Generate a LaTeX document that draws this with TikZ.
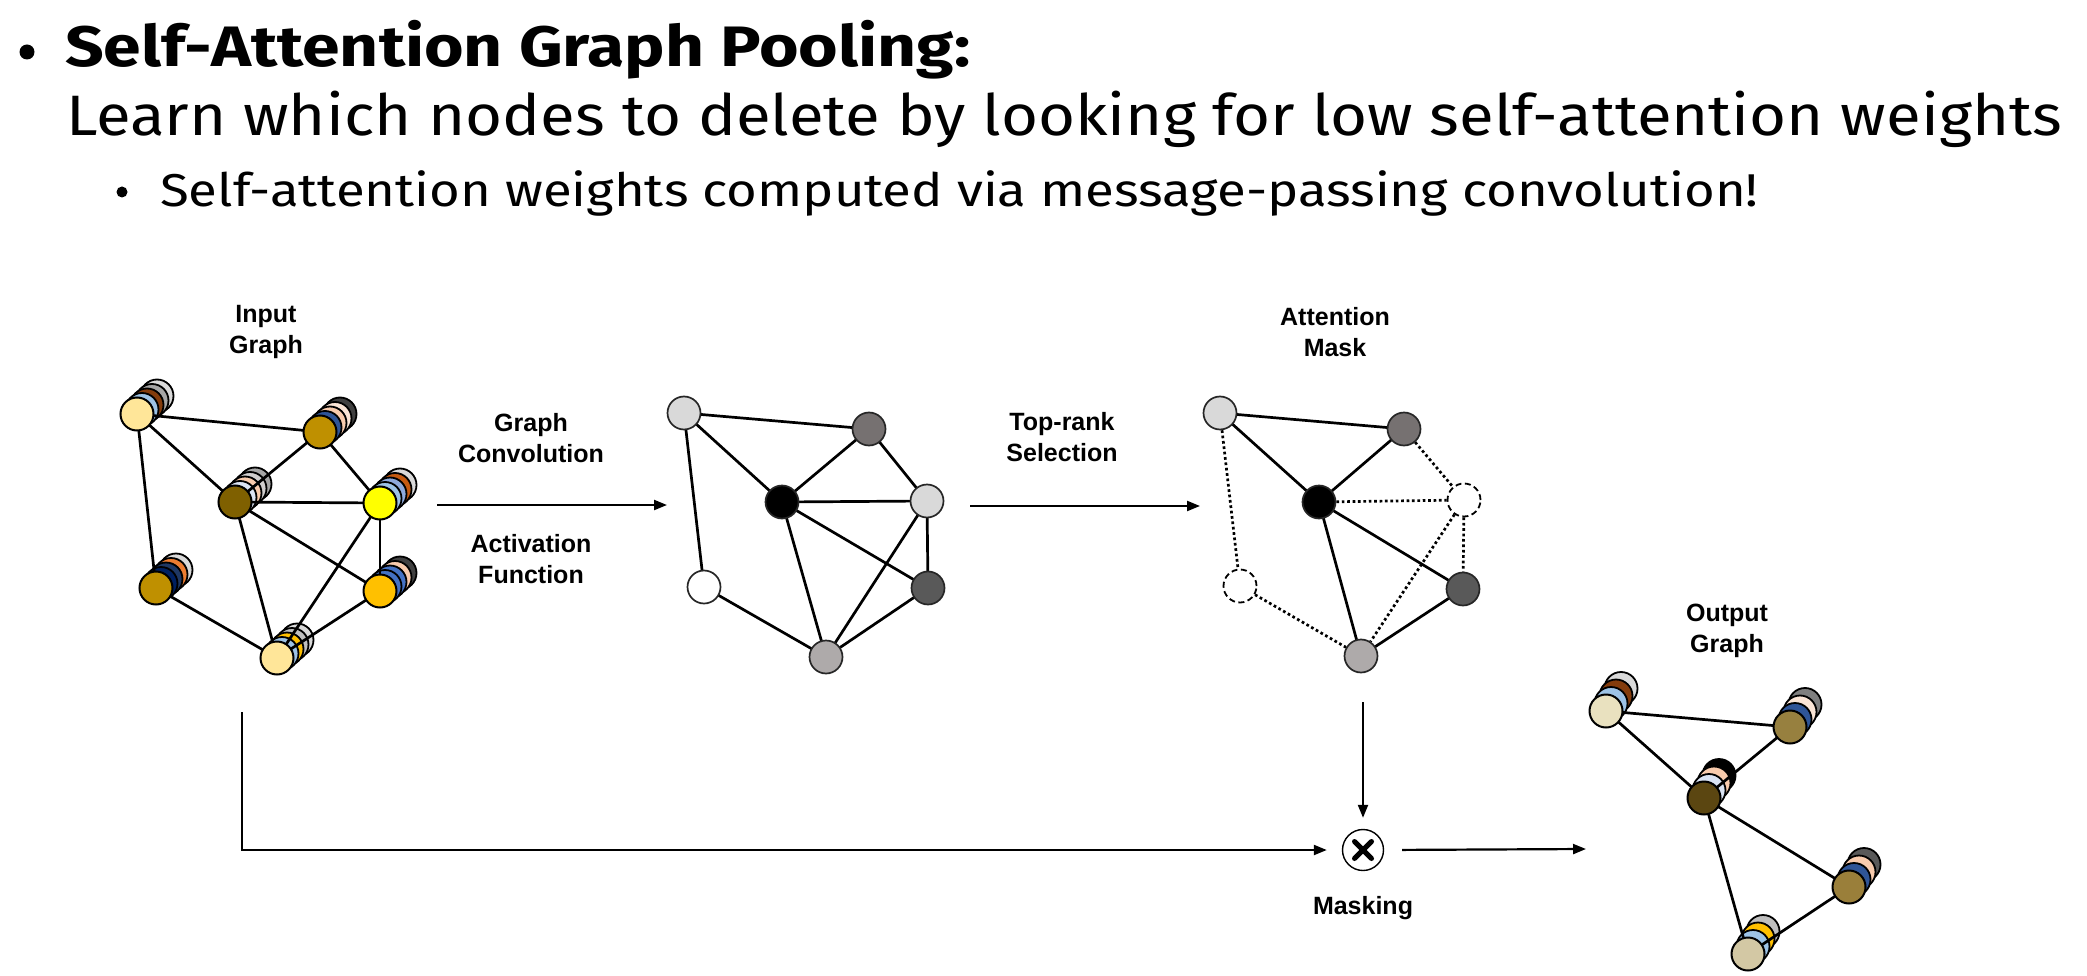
\documentclass[tikz,border=0pt]{standalone}
\usepackage{fontspec}
\setmainfont{Liberation Sans}
\newfontfamily\ttlAfont[FakeStretch=1.19]{Fira Sans}
\newfontfamily\ttlBfont[FakeStretch=1.115]{Fira Sans}
\newfontfamily\ttlCfont[FakeStretch=1.146]{Fira Sans}
\usetikzlibrary{arrows.meta}
\pgfdeclarelayer{bgfill}
\pgfdeclarelayer{stack}
\pgfdeclarelayer{edges}
\pgfsetlayers{bgfill,stack,edges,main}

\tikzset{
  gn/.style={circle, draw=black, line width=2pt, minimum size=33pt, inner sep=0pt},
  gtwo/.style={gn, draw=black!85, line width=1.7pt},
  stk/.style={draw=black, line width=1.8pt},
  edge/.style={line width=2.7pt, black},
  dotedge/.style={line width=2.7pt, black, dash pattern=on 2.7pt off 2.7pt},
  dcirc/.style={gn, fill=white, line width=1.8pt, dash pattern=on 6pt off 3.5pt},
  arr/.style={line width=2.2pt, -{Triangle[length=13pt,width=10pt]}},
  lbl/.style={font=\bfseries\fontsize{25pt}{31pt}\selectfont, align=center, inner sep=0pt},
  ttlA/.style={anchor=base west, inner sep=0pt, font=\ttlAfont\bfseries\fontsize{57pt}{69pt}\selectfont},
  ttlB/.style={anchor=base west, inner sep=0pt, font=\ttlBfont\fontsize{57pt}{69pt}\selectfont},
  ttlC/.style={anchor=base west, inner sep=0pt, font=\ttlCfont\fontsize{46pt}{56pt}\selectfont},
  bul/.style={circle, fill=black, inner sep=0pt},
}

\newcommand\mkstack[7]{%
  \begin{pgfonlayer}{stack}
    \foreach \c/\k in {#5}{%
      \definecolor{tmpc}{HTML}{\c}%
      \draw[stk, fill=tmpc] ({#2+\k*(#6)},{#3+\k*(#7)}) circle[radius=16.5pt];
    }
  \end{pgfonlayer}
  \definecolor{fc#1}{HTML}{#4}%
  \node[gn, fill=fc#1] (#1) at (#2,#3) {};
}

\definecolor{gLight}{HTML}{D9D9D9}
\definecolor{gMid}{HTML}{767171}
\definecolor{gDark}{HTML}{595959}
\definecolor{gSoft}{HTML}{AEAAAA}

\begin{document}
\begin{tikzpicture}[x=1pt,y=-1pt]
\useasboundingbox (0,0) rectangle (2087,976);
\begin{pgfonlayer}{bgfill}
\fill[white] (0,0) rectangle (2087,976);
\end{pgfonlayer}

% ---------- title text ----------
\node[bul, minimum size=15pt] (b1) at (27,52) {};
\node[ttlA] (t1) at (65,67) {Self-Attention Graph Pooling:};
\node[ttlB] (t2) at (66,136) {Learn which nodes to delete by looking for low self-attention weights};
\node[bul, minimum size=11pt] (b2) at (122,192) {};
\node[ttlC] (t3) at (160,207) {Self-attention weights computed via message-passing convolution!};

% ---------- input graph ----------
\mkstack{A}{137}{414}{FFE699}{D9D9D9/4,A6A6A6/3,843C0C/2,9DC3E6/1}{5}{-4.5}
\mkstack{B}{320}{432}{BF9000}{404040/4,FBE5D6/3,F8CBAD/2,2F5597/1}{5}{-4.5}
\mkstack{C}{235}{502}{7F6000}{A6A6A6/4,D0CECE/3,F8CBAD/2,DAE3F3/1}{5}{-4.5}
\mkstack{D}{380}{503}{FFFF00}{D9D9D9/4,C55A11/3,8FAADC/2,9DC3E6/1}{5}{-4.5}
\mkstack{E}{156}{588}{BF9000}{D9D9D9/4,ED7D31/3,1F3864/2,002060/1}{5}{-4.5}
\mkstack{F}{380}{591}{FFC000}{404040/4,F8CBAD/3,4472C4/2,4472C4/1}{5}{-4.5}
\mkstack{G}{277}{658}{FFE699}{D9D9D9/4,BFBFBF/3,FFC000/2,9DC3E6/1}{5}{-4.5}
\begin{pgfonlayer}{edges}
\draw[edge] (A.center) -- (B.center);
\draw[edge] (A.center) -- (C.center);
\draw[edge] (A.center) -- (E.center);
\draw[edge] (B.center) -- (C.center);
\draw[edge] (B.center) -- (D.center);
\draw[edge] (C.center) -- (D.center);
\draw[edge] (C.center) -- (F.center);
\draw[edge] (C.center) -- (G.center);
\draw[edge] (D.center) -- (G.center);
\draw[edge] (D.center) -- (F.center);
\draw[edge] (E.center) -- (G.center);
\draw[edge] (G.center) -- (F.center);
\end{pgfonlayer}
\node[lbl] (lin) at (266,332) {Input\\Graph};

% ---------- convolved graph ----------
\node[gtwo, fill=gLight] (N1) at (684,413) {};
\node[gtwo, fill=gMid] (N2) at (869,429) {};
\node[gtwo, fill=black] (N3) at (782,502) {};
\node[gtwo, fill=gLight] (N4) at (927,501) {};
\node[gtwo, fill=white] (N5) at (704,587) {};
\node[gtwo, fill=gDark] (N6) at (928,588) {};
\node[gtwo, fill=gSoft] (N7) at (826,657) {};
\begin{pgfonlayer}{edges}
\draw[edge] (N1.center) -- (N2.center);
\draw[edge] (N1.center) -- (N3.center);
\draw[edge] (N1.center) -- (N5.center);
\draw[edge] (N2.center) -- (N3.center);
\draw[edge] (N2.center) -- (N4.center);
\draw[edge] (N3.center) -- (N4.center);
\draw[edge] (N3.center) -- (N6.center);
\draw[edge] (N3.center) -- (N7.center);
\draw[edge] (N4.center) -- (N7.center);
\draw[edge] (N4.center) -- (N6.center);
\draw[edge] (N5.center) -- (N7.center);
\draw[edge] (N7.center) -- (N6.center);
\end{pgfonlayer}

% ---------- attention mask graph ----------
\node[gtwo, fill=gLight] (M1) at (1220,413) {};
\node[gtwo, fill=gMid] (M2) at (1404,429) {};
\node[gtwo, fill=black] (M3) at (1319,502) {};
\node[dcirc] (M4) at (1464,500) {};
\node[dcirc] (M5) at (1240,586) {};
\node[gtwo, fill=gDark] (M6) at (1463,589) {};
\node[gtwo, fill=gSoft] (M7) at (1361,656) {};
\begin{pgfonlayer}{edges}
\draw[edge] (M1.center) -- (M2.center);
\draw[edge] (M1.center) -- (M3.center);
\draw[edge] (M2.center) -- (M3.center);
\draw[edge] (M3.center) -- (M6.center);
\draw[edge] (M3.center) -- (M7.center);
\draw[edge] (M7.center) -- (M6.center);
\draw[dotedge] (M1) -- (M5);
\draw[dotedge] (M2) -- (M4);
\draw[dotedge] (M3) -- (M4);
\draw[dotedge] (M4) -- (M7);
\draw[dotedge] (M4) -- (M6);
\draw[dotedge] (M5) -- (M7);
\end{pgfonlayer}
\node[lbl] (lat) at (1335,332) {Attention\\Mask};

% ---------- output graph ----------
\mkstack{O1}{1606}{711}{E9E1BF}{D9D9D9/3,843C0C/2,9DC3E6/1}{5}{-7.5}
\mkstack{O2}{1790}{727}{97803F}{7F7F7F/3,FBE5D6/2,2F5597/1}{5}{-7.5}
\mkstack{O3}{1704}{798}{5B4611}{000000/3,F8CBAD/2,DAE3F3/1}{5}{-7.5}
\mkstack{O4}{1849}{887}{9A7F3A}{595959/3,F8CBAD/2,2F5597/1}{5}{-7.5}
\mkstack{O5}{1748}{954}{D3C8A4}{BFBFBF/3,FFC000/2,9DC3E6/1}{5}{-7.5}
\begin{pgfonlayer}{edges}
\draw[edge] (O1.center) -- (O2.center);
\draw[edge] (O1.center) -- (O3.center);
\draw[edge] (O2.center) -- (O3.center);
\draw[edge] (O3.center) -- (O4.center);
\draw[edge] (O3.center) -- (O5.center);
\draw[edge] (O5.center) -- (O4.center);
\end{pgfonlayer}
\node[lbl] (lout) at (1727,631) {Output\\Graph};

% ---------- arrows and labels ----------
\coordinate (a1s) at (437,505);
\coordinate (a1e) at (667,505);
\draw[arr] (a1s) -- (a1e);
\node[lbl] (lgc) at (531,438) {Graph\\Convolution};
\node[lbl] (laf) at (531,559) {Activation\\Function};

\coordinate (a2s) at (970,506);
\coordinate (a2e) at (1200,506);
\draw[arr] (a2s) -- (a2e);
\node[lbl] (ltr) at (1062,437) {Top-rank\\Selection};

\node[circle, draw=black, line width=1.4pt, minimum size=41pt, inner sep=0pt] (mask) at (1363,850) {};
\draw[line width=5pt, line cap=round] (1354.5,841.5) -- (1371.5,858.5);
\draw[line width=5pt, line cap=round] (1354.5,858.5) -- (1371.5,841.5);
\node[lbl] (lmask) at (1363,908) {Masking};

\coordinate (vtop) at (1363,702);
\draw[arr, shorten >=11pt] (vtop) -- (mask.north);
\coordinate (lstart) at (242,712);
\draw[arr, shorten >=15pt] (lstart) |- (mask.west);
\coordinate (outend) at (1586,849);
\draw[arr, shorten <=18pt] (mask.east) -- (outend);
\end{tikzpicture}
\end{document}
